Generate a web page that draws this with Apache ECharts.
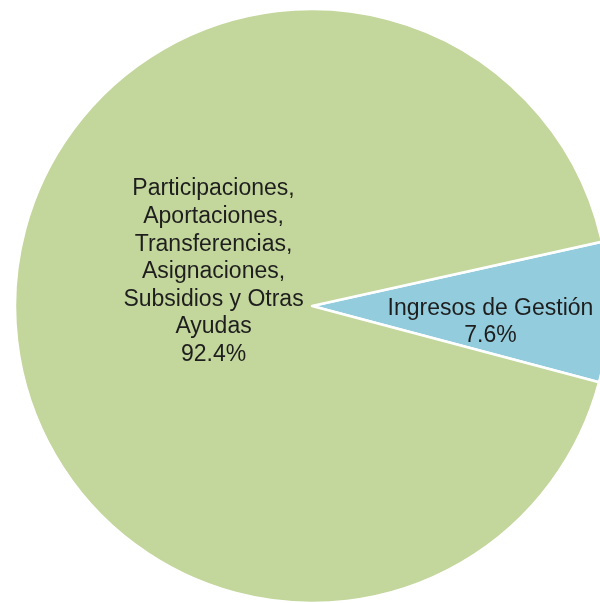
<!DOCTYPE html>
<html>
<head>
<meta charset="utf-8">
<script src="https://cdn.jsdelivr.net/npm/echarts@6/dist/echarts.min.js"></script>
<style>
html, body { margin: 0; padding: 0; background: #fff; }
#pieIngresos { width: 600px; height: 603px; }
</style>
</head>
<body>
<div id="pieIngresos"></div>
<script>
// --- datos ---
var categorias = ["Ingresos de Gestión", "Participaciones, Aportaciones, Transferencias, Asignaciones, Subsidios y Otras Ayudas"];
var etiquetas = ["Ingresos de Gestión", "Participaciones,\nAportaciones,\nTransferencias,\nAsignaciones,\nSubsidios y Otras\nAyudas"];
var porcentajes = [7.6, 92.4];
var colores = ["#93cddd", "#c3d69b"];

// desplazamiento de etiquetas para parecerse al original
var ajusteEtiqueta = [[27, 13], [53, -31]];

var myChart = echarts.init(document.getElementById('pieIngresos'));
myChart.setOption({
	animation: false,
	color: colores,
	series: [
		{
			type: 'pie',
			center: [312, 306],
			radius: 297,
			startAngle: 12.5,
			clockwise: true,
			avoidLabelOverlap: false,
			data: categorias.map(function (c, i) {
				return { name: c, value: porcentajes[i] };
			}),
			itemStyle: {
				borderColor: '#fff',
				borderWidth: 2.5
			},
			label: {
				show: true,
				position: 'inside',
				fontFamily: '"Liberation Sans", Arial, sans-serif',
				fontSize: 23,
				lineHeight: 27.6,
				color: '#1e1e1e',
				align: 'center',
				formatter: function (p) {
					return etiquetas[p.dataIndex] + '\n' + porcentajes[p.dataIndex].toFixed(1) + '%';
				}
			},
			labelLine: { show: false },
			labelLayout: function (p) {
				return { dx: ajusteEtiqueta[p.dataIndex][0], dy: ajusteEtiqueta[p.dataIndex][1] };
			}
		}
	]
});
</script>
</body>
</html>
